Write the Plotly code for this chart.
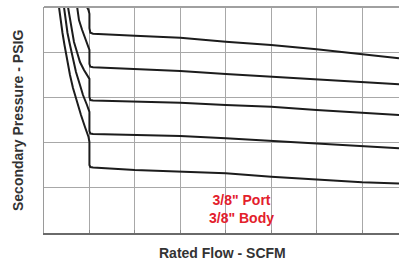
import plotly.graph_objects as go

# Curve readings (x in grid units of flow, y in grid units of pressure)
c1_x = [0.946, 0.98, 1.0, 1.0, 1.02, 1.08, 2.0, 3.0, 4.0, 5.0, 6.0, 7.0, 7.814]
c1_y = [5.0, 4.93, 4.85, 4.53, 4.43, 4.409, 4.365, 4.320, 4.232, 4.159, 4.064, 3.960, 3.865]

c2_x = [0.73, 0.77, 0.84, 0.92, 0.97, 1.0, 1.0, 1.02, 1.08, 2.0, 3.0, 4.0, 5.0, 6.0, 7.0, 7.814]
c2_y = [5.0, 4.71, 4.49, 4.27, 4.14, 4.05, 3.74, 3.68, 3.666, 3.622, 3.584, 3.518, 3.458, 3.400, 3.325, 3.290]

c3_x = [0.528, 0.572, 0.616, 0.66, 0.726, 0.792, 0.88, 0.969, 1.0, 1.0, 1.02, 1.08, 2.0, 3.0, 4.0, 5.0, 6.0, 7.0, 7.814]
c3_y = [5.0, 4.712, 4.425, 4.226, 4.004, 3.783, 3.606, 3.473, 3.41, 3.01, 2.94, 2.931, 2.905, 2.883, 2.832, 2.794, 2.721, 2.662, 2.611]

c4_x = [0.44, 0.473, 0.517, 0.572, 0.638, 0.704, 0.792, 0.858, 0.946, 1.0, 1.0, 1.02, 1.08, 2.0, 3.0, 4.0, 5.0, 6.0, 7.0, 7.814]
c4_y = [5.0, 4.712, 4.425, 4.159, 3.827, 3.562, 3.274, 3.053, 2.832, 2.677, 2.257, 2.20, 2.19, 2.168, 2.146, 2.095, 2.035, 1.985, 1.909, 1.874]

c5_x = [0.33, 0.363, 0.407, 0.451, 0.506, 0.572, 0.638, 0.726, 0.814, 0.902, 0.98, 1.0, 1.0, 1.02, 1.08, 2.0, 3.0, 4.0, 5.0, 6.0, 7.0, 7.814]
c5_y = [5.0, 4.712, 4.425, 4.159, 3.827, 3.496, 3.208, 2.898, 2.611, 2.345, 2.124, 2.013, 1.504, 1.46, 1.449, 1.394, 1.365, 1.321, 1.246, 1.188, 1.122, 1.095]

curves = [(c1_x, c1_y), (c2_x, c2_y), (c3_x, c3_y), (c4_x, c4_y), (c5_x, c5_y)]

x_grid = [0, 1, 2, 3, 4, 5, 6, 7]
y_grid = [0, 1, 2, 3, 4, 5]
label_lines = ['3/8" Port', '3/8" Body']
label_pos = (4.34, 0.53)
x_title = "Rated Flow - SCFM"
y_title = "Secondary Pressure - PSIG"

fig = go.Figure()
for cx, cy in curves:
    fig.add_trace(go.Scatter(x=cx, y=cy, mode="lines",
                             line=dict(color="#1c1c1c", width=2),
                             showlegend=False, hoverinfo="skip"))

fig.add_annotation(x=label_pos[0], y=label_pos[1], xref="x", yref="y",
                   xanchor="center", yanchor="middle",
                   text="<br>".join("<b>%s</b>" % s for s in label_lines), showarrow=False,
                   font=dict(family="Liberation Sans, Arial", size=14, color="#e3202b"),
                   align="center")

fig.add_annotation(x=222, y=262 - 253, xref="paper", yref="paper",
                   xanchor="center", yanchor="middle",
                   text="<b>%s</b>" % x_title, showarrow=False,
                   font=dict(family="Liberation Sans, Arial", size=14, color="#333333"))
fig.add_annotation(x=18, y=262 - 121, xref="paper", yref="paper",
                   xanchor="center", yanchor="middle",
                   text="<b>%s</b>" % y_title, showarrow=False, textangle=-90,
                   font=dict(family="Liberation Sans, Arial", size=14, color="#333333"))

# convert pixel-placed title annotations to paper coords
pw, ph = 399 - 44, 233 - 7
for a in fig.layout.annotations[1:]:
    a.x = (a.x - 44) / pw
    a.y = (a.y - 29) / ph

fig.update_layout(
    width=399, height=262,
    margin=dict(l=44, r=0, t=7, b=29, autoexpand=False),
    paper_bgcolor="white", plot_bgcolor="white",
    font=dict(family="Liberation Sans, Arial", color="#333333"),
    xaxis=dict(range=[0, 7.814], tickvals=x_grid, showticklabels=False, automargin=False,
               showgrid=True, gridcolor="#a8a8a8", gridwidth=1,
               zeroline=False, showline=True, linecolor="#6a6a6a", linewidth=2,
               ticks="inside", ticklen=3, tickcolor="#888888"),
    yaxis=dict(range=[0, 5], tickvals=y_grid, showticklabels=False, automargin=False,
               showgrid=True, gridcolor="#a8a8a8", gridwidth=1,
               zeroline=False, showline=True, linecolor="#9a9a9a", linewidth=1),
    shapes=[dict(type="line", xref="paper", yref="paper", x0=0, x1=1, y0=1, y1=1,
                 line=dict(color="#a0a0a0", width=2))],
)

fig.write_html("out.html", config={"displayModeBar": False},
               post_script="document.body.style.margin='0';document.body.style.overflow='hidden';")
